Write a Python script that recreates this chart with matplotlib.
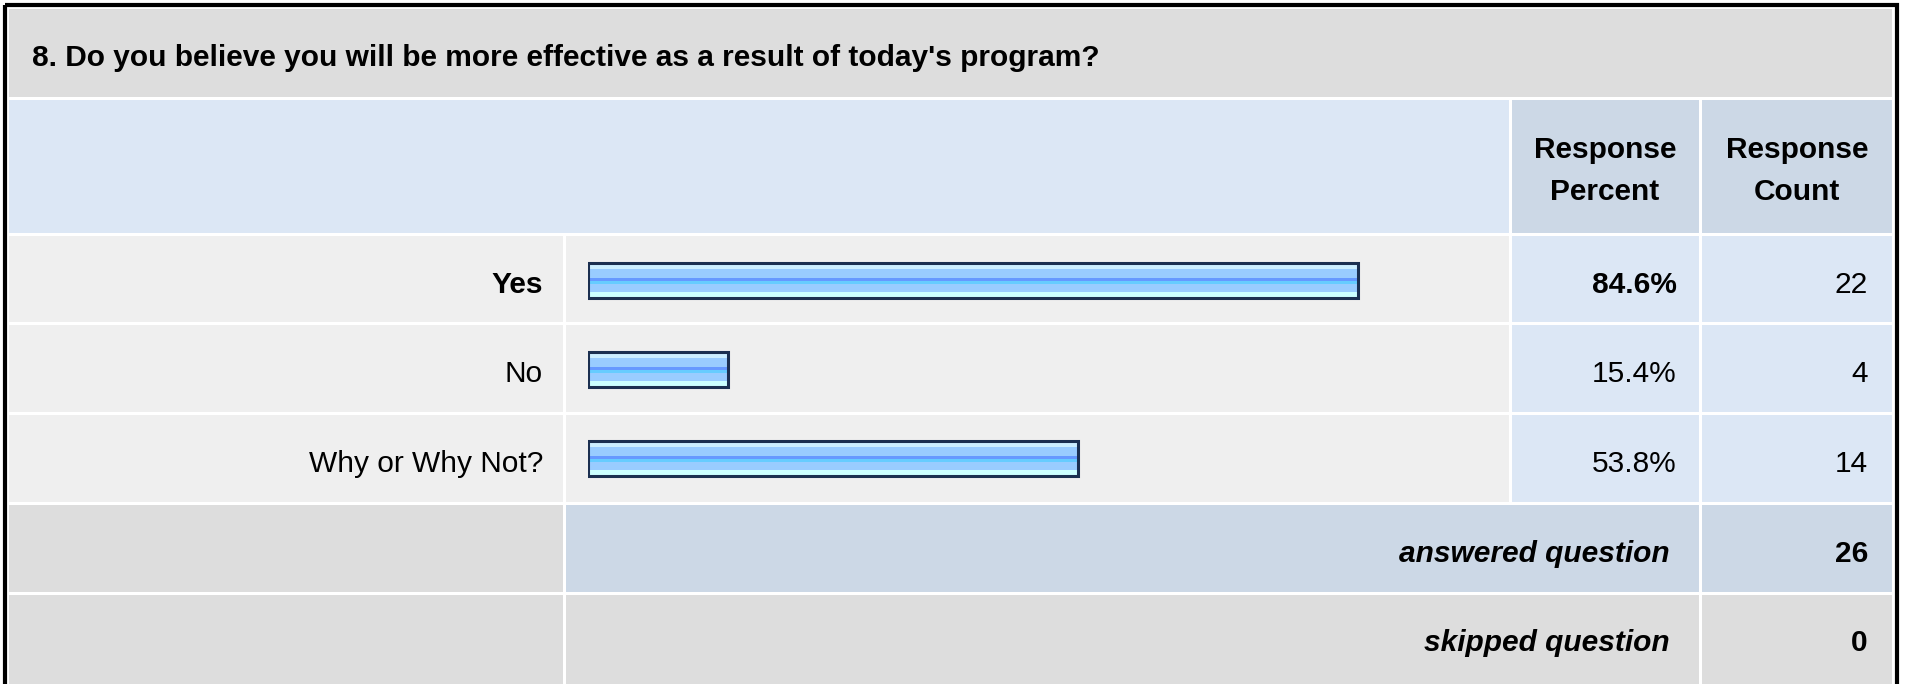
import matplotlib
matplotlib.use('Agg')
import matplotlib.pyplot as plt
from matplotlib.patches import Rectangle

plt.rcParams['font.family'] = ['Liberation Sans', 'DejaVu Sans']

# survey data
title = "8. Do you believe you will be more effective as a result of today's program?"
answers = ['Yes', 'No', 'Why or Why Not?']
percents = [84.6, 15.4, 53.8]
counts = [22, 4, 14]
answered = 26
skipped = 0

W, H = 1907, 684
fig = plt.figure(figsize=(W / 100, H / 100), dpi=100)
ax = fig.add_axes([0, 0, 1, 1])
ax.set_xlim(0, W)
ax.set_ylim(H, 0)
ax.axis('off')

# column edges (pixels)
cols = [(9, 563), (566, 1509), (1512, 1699), (1702, 1892)]
rows = [(236, 322), (325, 412), (415, 502)]

GREY = '#dddddd'
LIGHT = '#efefef'
BLUE = '#dce7f5'
DARK = '#ccd8e6'


def cell(x0, x1, y0, y1, c):
    ax.add_patch(Rectangle((x0, y0), x1 - x0, y1 - y0, facecolor=c, edgecolor='none'))


# outer border
ax.add_patch(Rectangle((5, 5), 1892, 700, facecolor='none', edgecolor='black', lw=3))

fs = 21.5

# title row
cell(9, 1892, 9, 97, GREY)
ax.text(32, 66, title, fontsize=fs, fontweight='bold', va='baseline', ha='left')

# header row
cell(9, 1509, 100, 233, BLUE)
cell(1512, 1699, 100, 233, DARK)
cell(1702, 1892, 100, 233, DARK)
ax.text(1605, 158, 'Response', fontsize=fs, fontweight='bold', ha='center', va='baseline')
ax.text(1605, 200, 'Percent', fontsize=fs, fontweight='bold', ha='center', va='baseline')
ax.text(1797, 158, 'Response', fontsize=fs, fontweight='bold', ha='center', va='baseline')
ax.text(1797, 200, 'Count', fontsize=fs, fontweight='bold', ha='center', va='baseline')

# answer rows
top = max(percents)
for i, (y0, y1) in enumerate(rows):
    cell(*cols[0], y0, y1, LIGHT)
    cell(*cols[1], y0, y1, LIGHT)
    cell(*cols[2], y0, y1, BLUE)
    cell(*cols[3], y0, y1, BLUE)
    yb = (y0 + y1) / 2 + 14
    w = 'bold' if percents[i] == top else 'normal'
    ax.text(543, yb, answers[i], fontsize=fs, fontweight=w, ha='right', va='baseline')
    ax.text(1677, yb, f'{percents[i]:.1f}%', fontsize=fs, fontweight=w, ha='right', va='baseline')
    ax.text(1868, yb, str(counts[i]), fontsize=fs, ha='right', va='baseline')

# summary rows
cell(9, 563, 505, 592, GREY)
cell(566, 1699, 505, 592, DARK)
cell(1702, 1892, 505, 592, DARK)
cell(9, 563, 595, H, GREY)
cell(566, 1699, 595, H, GREY)
cell(1702, 1892, 595, H, GREY)
ax.text(1670, 562, 'answered question', fontsize=fs, fontweight='bold', style='italic', ha='right', va='baseline')
ax.text(1868, 562, str(answered), fontsize=fs, fontweight='bold', ha='right', va='baseline')
ax.text(1670, 651, 'skipped question', fontsize=fs, fontweight='bold', style='italic', ha='right', va='baseline')
ax.text(1868, 651, str(skipped), fontsize=fs, fontweight='bold', ha='right', va='baseline')

# bars
bx = fig.add_axes([588 / W, 1 - 503 / H, 910 / W, 267 / H])
bx.set_xlim(0, 100)
bx.set_ylim(2.5, -0.5)
bx.axis('off')
bx.patch.set_alpha(0)

h = 0.39
stripes = [(0.0, 0.17, '#cceeff'), (0.17, 0.42, '#99ccff'), (0.42, 0.50, '#6699ff'),
           (0.50, 0.59, '#66ccff'), (0.59, 0.84, '#99ccff'), (0.84, 1.0, '#ccffff')]
ys = list(range(len(answers)))
for f0, f1, c in stripes:
    bx.barh([y - h / 2 + f0 * h for y in ys], percents, height=(f1 - f0) * h,
            align='edge', color=c, edgecolor='none')
bx.barh(ys, percents, height=h, fill=False, edgecolor='#1b2f50', linewidth=2.2)

fig.savefig('out.png', dpi=100, facecolor='white')
